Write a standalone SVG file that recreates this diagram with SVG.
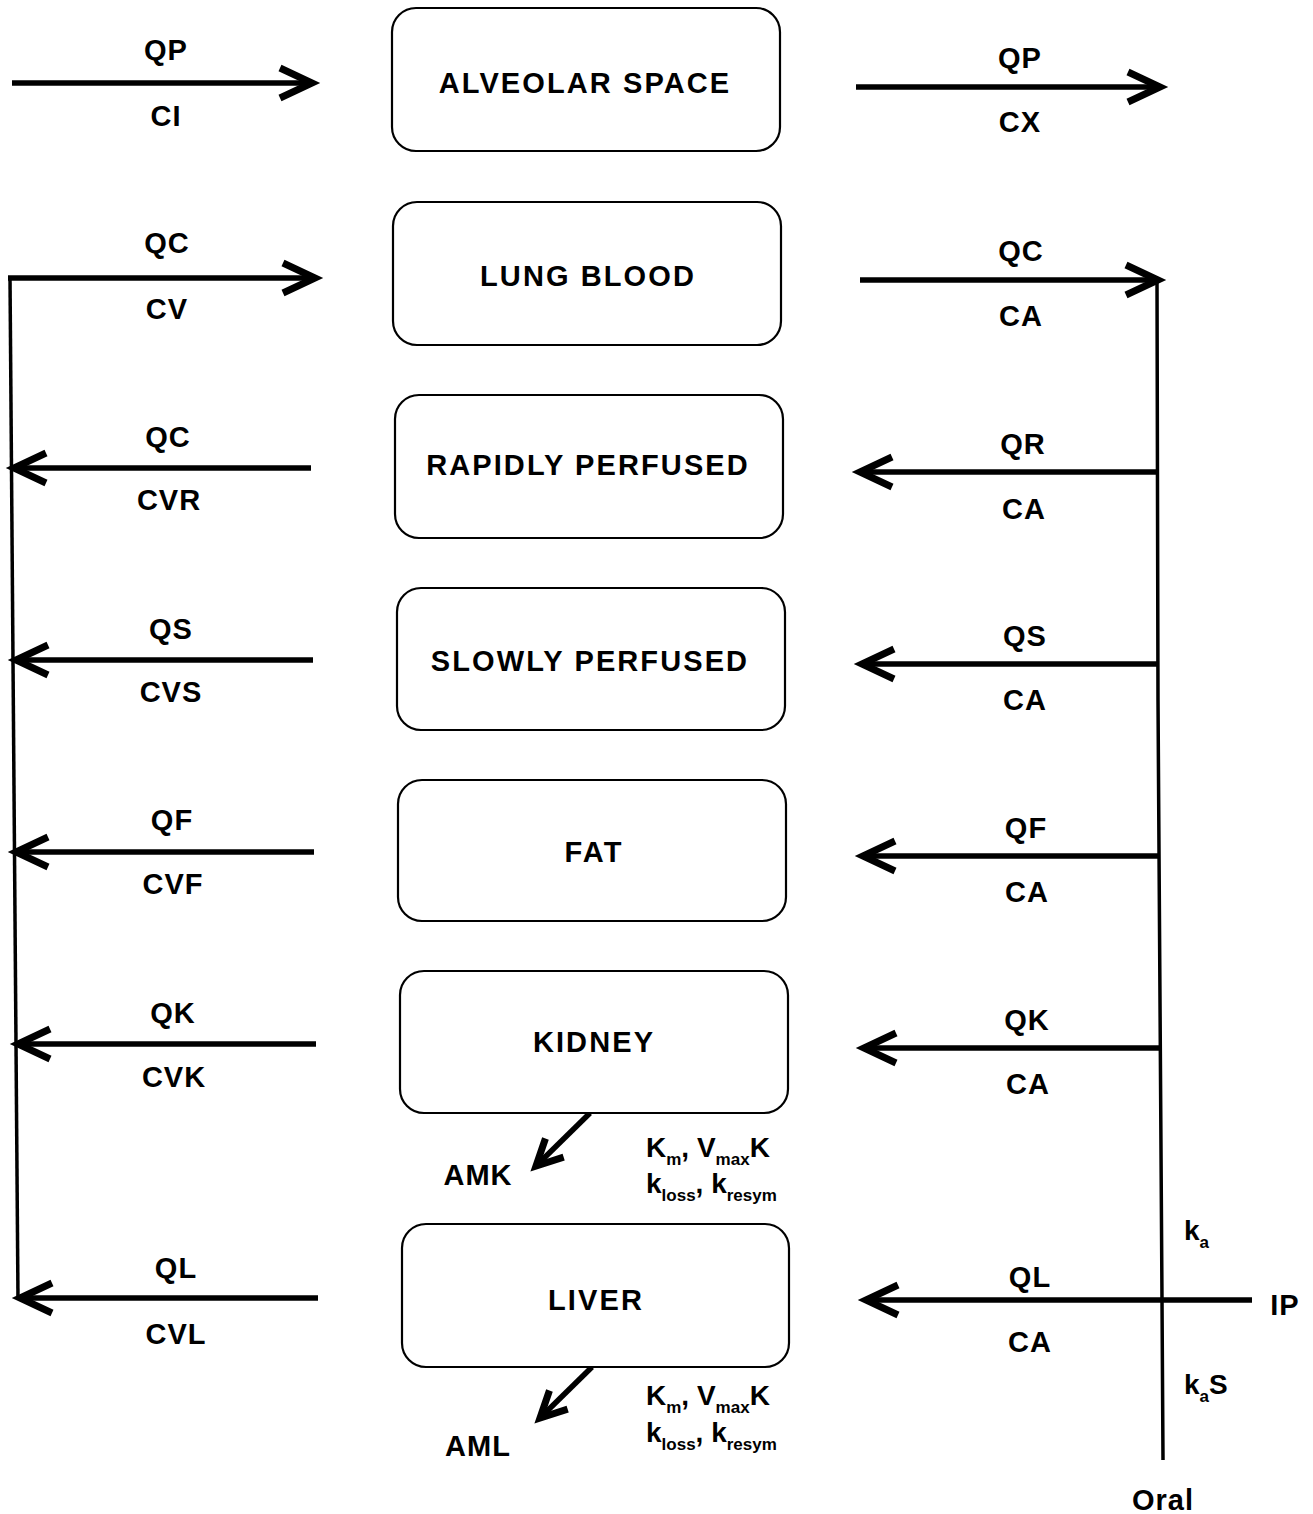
<svg xmlns="http://www.w3.org/2000/svg" width="1313" height="1514" viewBox="0 0 1313 1514">
<style>
.box{fill:#fff;stroke:#000;stroke-width:2.2}
.t{font-family:"Liberation Sans",Arial,sans-serif;font-weight:bold;font-size:29px;fill:#000;text-anchor:middle;letter-spacing:1px}
.bt{letter-spacing:2.1px}
.tl{font-family:"Liberation Sans",Arial,sans-serif;font-weight:bold;font-size:28px;fill:#000}
.s{font-size:17px}
.ln{stroke:#000;stroke-width:5.5;fill:none}
.v{stroke:#000;stroke-width:3.5;fill:none}
</style>
<defs>
<marker id="ah" markerUnits="userSpaceOnUse" markerWidth="50" markerHeight="50" viewBox="-40 -25 50 50" refX="0" refY="0" orient="auto">
<path d="M-32,-15 L0,0 L-32,15" fill="none" stroke="#000" stroke-width="7" stroke-linejoin="miter"/>
</marker>
<marker id="ah2" markerUnits="userSpaceOnUse" markerWidth="50" markerHeight="50" viewBox="-40 -25 50 50" refX="0" refY="0" orient="auto">
<path d="M-26,-13 L0,0 L-26,13" fill="none" stroke="#000" stroke-width="7" stroke-linejoin="miter"/>
</marker>
</defs>
<g id="connectors">
<line class="ln" x1="12" y1="83" x2="312" y2="83" marker-end="url(#ah)"/>
<line class="ln" x1="856" y1="87" x2="1160" y2="87" marker-end="url(#ah)"/>
<path class="v" d="M18,1300 L10,278"/>
<line class="ln" x1="8" y1="278" x2="315" y2="278" marker-end="url(#ah)"/>
<path class="v" d="M1157,280 L1158,700 L1162,1300 L1163,1460"/>
<line class="ln" x1="860" y1="280" x2="1158" y2="280" marker-end="url(#ah)"/>
<line class="ln" x1="311" y1="468" x2="14" y2="468" marker-end="url(#ah)"/>
<line class="ln" x1="1157" y1="472" x2="860" y2="472" marker-end="url(#ah)"/>
<line class="ln" x1="313" y1="660" x2="16" y2="660" marker-end="url(#ah)"/>
<line class="ln" x1="1158" y1="664" x2="862" y2="664" marker-end="url(#ah)"/>
<line class="ln" x1="314" y1="852" x2="16" y2="852" marker-end="url(#ah)"/>
<line class="ln" x1="1159" y1="856" x2="863" y2="856" marker-end="url(#ah)"/>
<line class="ln" x1="316" y1="1044" x2="18" y2="1044" marker-end="url(#ah)"/>
<line class="ln" x1="1160" y1="1048" x2="864" y2="1048" marker-end="url(#ah)"/>
<line class="ln" x1="318" y1="1298" x2="20" y2="1298" marker-end="url(#ah)"/>
<line class="ln" x1="1252" y1="1300" x2="866" y2="1300" marker-end="url(#ah)"/>
<line class="ln" x1="590" y1="1113" x2="536" y2="1166" marker-end="url(#ah2)"/>
<line class="ln" x1="592" y1="1367" x2="540" y2="1418" marker-end="url(#ah2)"/>
</g>
<g id="alveolar"><rect class="box" x="392" y="8" width="388" height="143" rx="24"/><text class="t bt" x="585" y="93">ALVEOLAR SPACE</text></g>
<g id="lung"><rect class="box" x="393" y="202" width="388" height="143" rx="24"/><text class="t bt" x="588" y="286">LUNG BLOOD</text></g>
<g id="rapid"><rect class="box" x="395" y="395" width="388" height="143" rx="24"/><text class="t bt" x="588" y="475">RAPIDLY PERFUSED</text></g>
<g id="slow"><rect class="box" x="397" y="588" width="388" height="142" rx="24"/><text class="t bt" x="590" y="671">SLOWLY PERFUSED</text></g>
<g id="fat"><rect class="box" x="398" y="780" width="388" height="141" rx="24"/><text class="t bt" x="594" y="862">FAT</text></g>
<g id="kidney"><rect class="box" x="400" y="971" width="388" height="142" rx="24"/><text class="t bt" x="594" y="1052">KIDNEY</text></g>
<g id="liver"><rect class="box" x="402" y="1224" width="387" height="143" rx="24"/><text class="t bt" x="596" y="1310">LIVER</text></g>
<g id="labels">
<text class="t" x="166" y="60">QP</text><text class="t" x="166" y="126">CI</text>
<text class="t" x="1020" y="68">QP</text><text class="t" x="1020" y="132">CX</text>
<text class="t" x="167" y="253">QC</text><text class="t" x="167" y="319">CV</text>
<text class="t" x="1021" y="261">QC</text><text class="t" x="1021" y="326">CA</text>
<text class="t" x="168" y="447">QC</text><text class="t" x="169" y="510">CVR</text>
<text class="t" x="1023" y="454">QR</text><text class="t" x="1024" y="519">CA</text>
<text class="t" x="171" y="639">QS</text><text class="t" x="171" y="702">CVS</text>
<text class="t" x="1025" y="646">QS</text><text class="t" x="1025" y="710">CA</text>
<text class="t" x="172" y="830">QF</text><text class="t" x="173" y="894">CVF</text>
<text class="t" x="1026" y="838">QF</text><text class="t" x="1027" y="902">CA</text>
<text class="t" x="173" y="1023">QK</text><text class="t" x="174" y="1087">CVK</text>
<text class="t" x="1027" y="1030">QK</text><text class="t" x="1028" y="1094">CA</text>
<text class="t" x="176" y="1278">QL</text><text class="t" x="176" y="1344">CVL</text>
<text class="t" x="1030" y="1287">QL</text><text class="t" x="1030" y="1352">CA</text>
<text class="t" x="1285" y="1315">IP</text>
<text class="t" x="478" y="1185">AMK</text>
<text class="t" x="478" y="1456">AML</text>
<text class="t" x="1163" y="1510">Oral</text>
<text class="tl" x="1184" y="1240">k<tspan class="s" dy="8">a</tspan></text>
<text class="tl" x="1184" y="1394">k<tspan class="s" dy="8">a</tspan><tspan dy="-8">S</tspan></text>
<text class="tl" x="646" y="1157">K<tspan class="s" dy="8">m</tspan><tspan dy="-8">, V</tspan><tspan class="s" dy="8">max</tspan><tspan dy="-8">K</tspan></text>
<text class="tl" x="646" y="1193">k<tspan class="s" dy="8">loss</tspan><tspan dy="-8">,  k</tspan><tspan class="s" dy="8">resym</tspan></text>
<text class="tl" x="646" y="1405">K<tspan class="s" dy="8">m</tspan><tspan dy="-8">, V</tspan><tspan class="s" dy="8">max</tspan><tspan dy="-8">K</tspan></text>
<text class="tl" x="646" y="1442">k<tspan class="s" dy="8">loss</tspan><tspan dy="-8">,  k</tspan><tspan class="s" dy="8">resym</tspan></text>
</g>
</svg>
